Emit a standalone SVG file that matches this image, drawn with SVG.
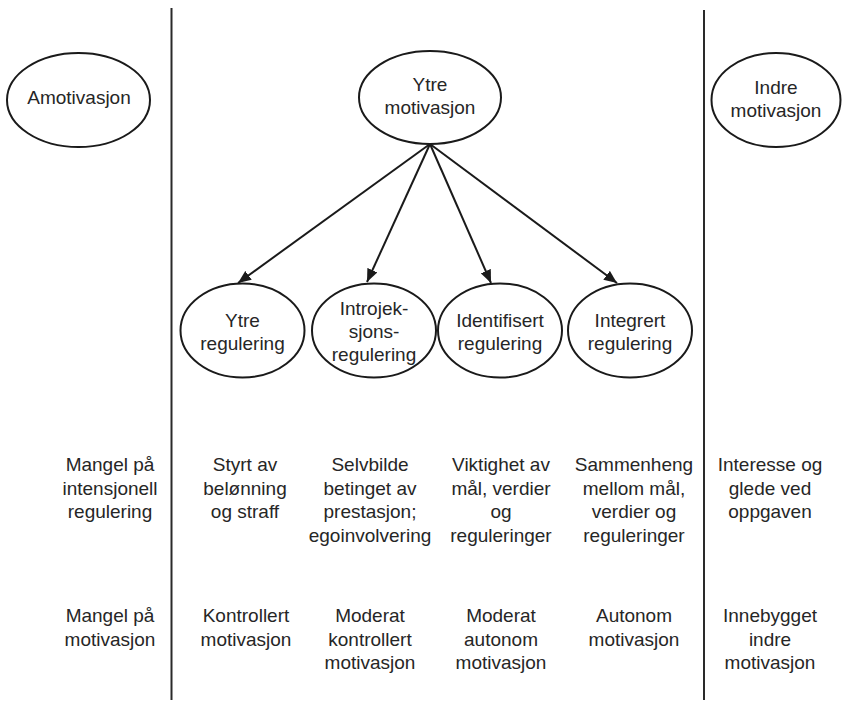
<svg xmlns="http://www.w3.org/2000/svg" width="847" height="704" viewBox="0 0 847 704">
  <defs>
    <marker id="arrow" viewBox="0 0 13 11" refX="13" refY="5.5" markerWidth="13" markerHeight="11" markerUnits="userSpaceOnUse" orient="auto">
      <path d="M0,0 L13,5.5 L0,11 Z" fill="#1a1a1a"/>
    </marker>
    <style>
      .node ellipse { fill: #ffffff; stroke: #1a1a1a; stroke-width: 2; }
      text { font-family: "Liberation Sans", Arial, sans-serif; font-size: 19px; fill: #262626; text-anchor: middle; }
      .divider { stroke: #2a2a2a; stroke-width: 2; }
      .edge { stroke: #1a1a1a; stroke-width: 2; fill: none; marker-end: url(#arrow); }
    </style>
  </defs>
  <rect width="847" height="704" fill="#ffffff"/>

  <!-- column dividers -->
  <line class="divider" x1="171.5" y1="8" x2="171.5" y2="700"/>
  <line class="divider" x1="704" y1="10" x2="704" y2="700"/>

  <!-- connectors -->
  <g id="connectors">
    <line class="edge" x1="430" y1="144" x2="238" y2="283"/>
    <line class="edge" x1="430" y1="144" x2="367" y2="282"/>
    <line class="edge" x1="430" y1="144" x2="491" y2="283"/>
    <line class="edge" x1="430" y1="144" x2="617" y2="283"/>
  </g>

  <!-- top row -->
  <g id="amotivasjon" class="node">
    <ellipse cx="78.5" cy="100" rx="71.5" ry="47"/>
    <text x="79" y="104">Amotivasjon</text>
  </g>
  <g id="ytre-motivasjon" class="node">
    <ellipse cx="430" cy="97.5" rx="71" ry="46.5"/>
    <text x="430" y="91">Ytre</text>
    <text x="430" y="114">motivasjon</text>
  </g>
  <g id="indre-motivasjon" class="node">
    <ellipse cx="776" cy="100" rx="64.5" ry="47"/>
    <text x="776" y="94">Indre</text>
    <text x="776" y="117">motivasjon</text>
  </g>

  <!-- regulation types -->
  <g id="ytre-regulering" class="node">
    <ellipse cx="242.5" cy="330.5" rx="62" ry="47"/>
    <text x="242.5" y="327">Ytre</text>
    <text x="242.5" y="350">regulering</text>
  </g>
  <g id="introjeksjonsregulering" class="node">
    <ellipse cx="374" cy="330.5" rx="62" ry="47"/>
    <text x="374" y="315">Introjek-</text>
    <text x="374" y="338">sjons-</text>
    <text x="374" y="361">regulering</text>
  </g>
  <g id="identifisert-regulering" class="node">
    <ellipse cx="500" cy="330.5" rx="62" ry="47"/>
    <text x="500" y="327">Identifisert</text>
    <text x="500" y="350">regulering</text>
  </g>
  <g id="integrert-regulering" class="node">
    <ellipse cx="630" cy="330.5" rx="62" ry="47"/>
    <text x="630" y="327">Integrert</text>
    <text x="630" y="350">regulering</text>
  </g>

  <!-- description row -->
  <g id="beskrivelser">
    <text x="110" y="471">Mangel på</text>
    <text x="110" y="494.5">intensjonell</text>
    <text x="110" y="518">regulering</text>

    <text x="245" y="471">Styrt av</text>
    <text x="245" y="494.5">belønning</text>
    <text x="245" y="518">og straff</text>

    <text x="370" y="471">Selvbilde</text>
    <text x="370" y="494.5">betinget av</text>
    <text x="370" y="518">prestasjon;</text>
    <text x="370" y="541.5">egoinvolvering</text>

    <text x="501" y="471">Viktighet av</text>
    <text x="501" y="494.5">mål, verdier</text>
    <text x="501" y="518">og</text>
    <text x="501" y="541.5">reguleringer</text>

    <text x="634" y="471">Sammenheng</text>
    <text x="634" y="494.5">mellom mål,</text>
    <text x="634" y="518">verdier og</text>
    <text x="634" y="541.5">reguleringer</text>

    <text x="770" y="471">Interesse og</text>
    <text x="770" y="494.5">glede ved</text>
    <text x="770" y="518">oppgaven</text>
  </g>

  <!-- motivation quality row -->
  <g id="motivasjonstyper">
    <text x="110" y="622">Mangel på</text>
    <text x="110" y="645.5">motivasjon</text>

    <text x="246" y="622">Kontrollert</text>
    <text x="246" y="645.5">motivasjon</text>

    <text x="370" y="622">Moderat</text>
    <text x="370" y="645.5">kontrollert</text>
    <text x="370" y="669">motivasjon</text>

    <text x="501" y="622">Moderat</text>
    <text x="501" y="645.5">autonom</text>
    <text x="501" y="669">motivasjon</text>

    <text x="634" y="622">Autonom</text>
    <text x="634" y="645.5">motivasjon</text>

    <text x="770" y="622">Innebygget</text>
    <text x="770" y="645.5">indre</text>
    <text x="770" y="669">motivasjon</text>
  </g>
</svg>
